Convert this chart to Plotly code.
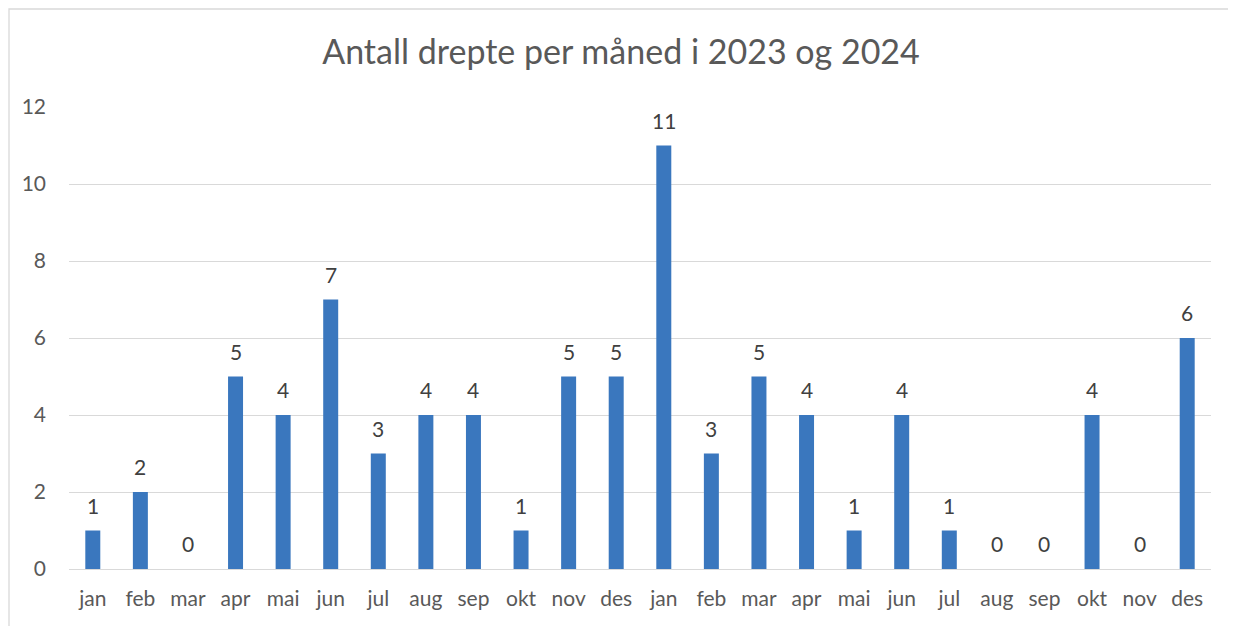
import plotly.graph_objects as go

months = ["jan", "feb", "mar", "apr", "mai", "jun", "jul", "aug", "sep", "okt", "nov", "des",
          "jan", "feb", "mar", "apr", "mai", "jun", "jul", "aug", "sep", "okt", "nov", "des"]
killed = [1, 2, 0, 5, 4, 7, 3, 4, 4, 1, 5, 5,
          11, 3, 5, 4, 1, 4, 1, 0, 0, 4, 0, 6]
y_ticks = [0, 2, 4, 6, 8, 10, 12]

# page body has an 8px margin, so the figure is offset by 8px
W, H = 1228, 618
L, T = 61, 99
R = W - (1211 - 8)
B = H - (569 - 8)
pw, ph = W - L - R, H - T - B
FONT = "Lato, Open Sans, sans-serif"

xs = list(range(len(months)))
fig = go.Figure(go.Bar(
    x=xs, y=killed, width=0.315,
    marker=dict(color="#3A77BE", line=dict(width=0)),
    hoverinfo="skip",
))

for xi, v in zip(xs, killed):
    fig.add_annotation(x=xi, y=v, text=str(v), showarrow=False,
                       yanchor="bottom", yshift=11,
                       font=dict(family=FONT, size=21, color="#404040"))

fig.update_layout(
    width=W, height=H,
    margin=dict(l=L, r=R, t=T, b=B, autoexpand=False),
    paper_bgcolor="white", plot_bgcolor="white",
    showlegend=False,
    title=dict(text="Antall drepte per måned i 2023 og 2024",
               x=(613 - L) / pw, xref="paper", xanchor="center",
               y=1 - 44 / H, yref="container", yanchor="middle",
               automargin=False,
               font=dict(family=FONT, size=34, color="#595959")),
    xaxis=dict(tickmode="array", tickvals=xs, ticktext=months, automargin=False,
               range=[-0.5, len(months) - 0.5], showgrid=False, zeroline=False,
               showline=False, ticks="", ticklabelstandoff=15,
               tickfont=dict(family=FONT, size=21, color="#595959")),
    yaxis=dict(range=[0, 12], tickvals=y_ticks, showgrid=True, gridcolor="#D9D9D9",
               gridwidth=1.3, zeroline=True, zerolinecolor="#D9D9D9", zerolinewidth=1.3,
               ticks="", showline=False, automargin=False, ticklabelstandoff=22,
               tickfont=dict(family=FONT, size=21, color="#595959")),
    shapes=[dict(type="rect", xref="paper", yref="paper",
                 x0=(1 - L) / pw, x1=(W + 10 - L) / pw,
                 y0=-(H + 10 - T - ph) / ph, y1=1 + (T - 1) / ph,
                 line=dict(color="#D9D9D9", width=1.3), fillcolor="rgba(0,0,0,0)", layer="below")],
)

fig.write_html("out.html")
